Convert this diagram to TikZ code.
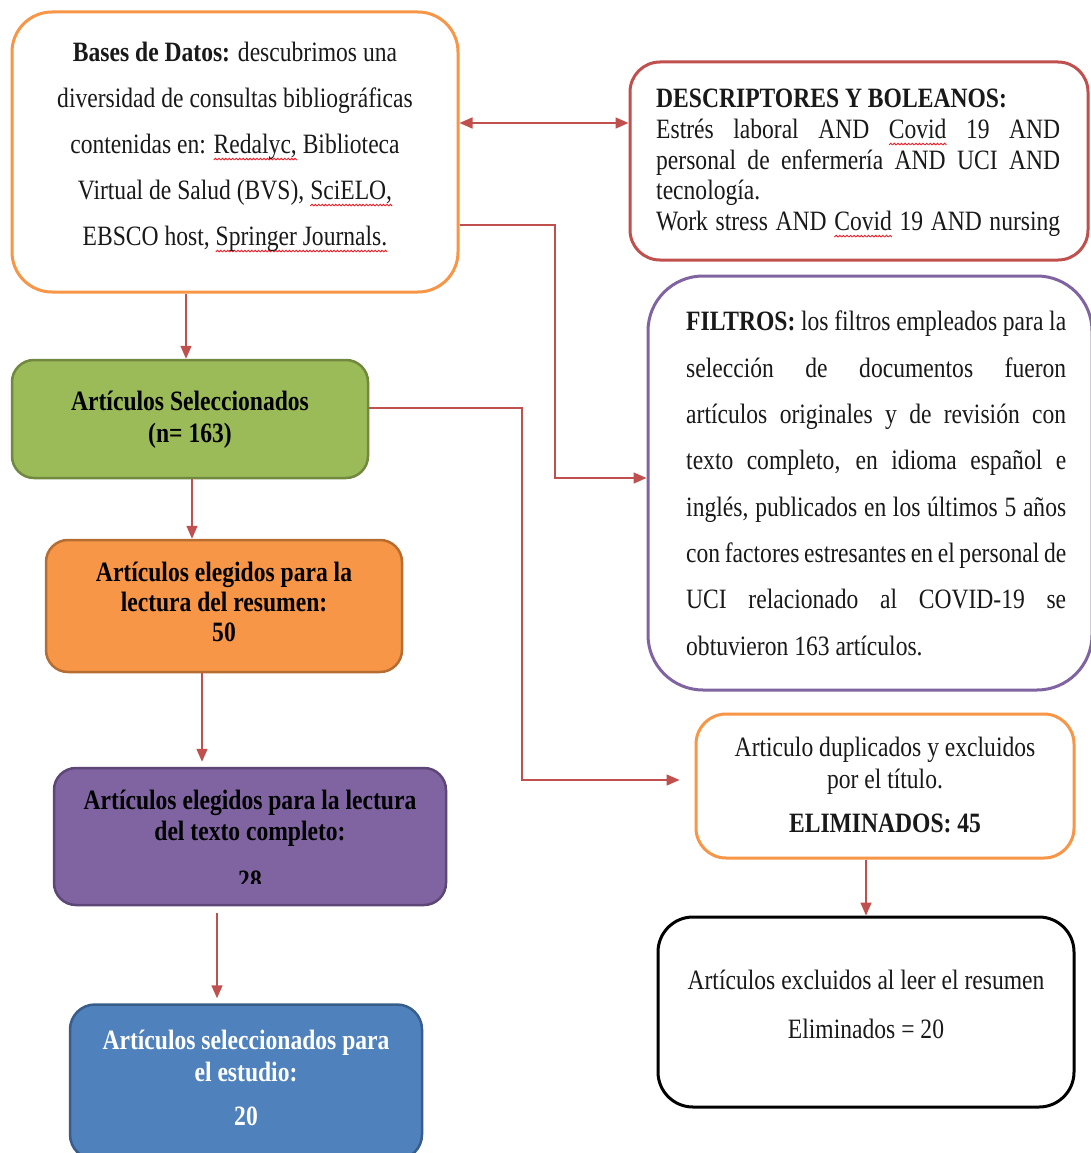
\documentclass[tikz,border=0pt]{standalone}
\usepackage{fontspec}
\setmainfont{Liberation Serif}[FakeStretch=0.842]
\usetikzlibrary{arrows.meta}
\definecolor{corange}{HTML}{F79646}
\definecolor{cred}{HTML}{C0504D}
\definecolor{cpurple}{HTML}{8064A2}
\definecolor{cgreen}{HTML}{9BBB59}
\definecolor{cgreenD}{HTML}{71893F}
\definecolor{corangeD}{HTML}{B66D31}
\definecolor{cpurpleD}{HTML}{5C4776}
\definecolor{cblue}{HTML}{4F81BD}
\definecolor{cblueD}{HTML}{385D8A}
\definecolor{sqred}{HTML}{E8202A}
\newcommand{\jl}[2]{\makebox[#1][s]{#2}}
\newcommand{\ns}{\spaceskip=0pt\xspaceskip=0pt\relax}
\newsavebox\wavebox
\newsavebox\sqtmp
\sbox\wavebox{\tikz[x=1pt,y=1pt]{\useasboundingbox (0,0) rectangle (3.4,1.7); \draw[sqred,line width=0.9pt] (0,0)--(1.7,1.7)--(3.4,0);}}
\newcommand{\sq}[1]{\leavevmode\sbox\sqtmp{#1}\rlap{\raisebox{-6.5pt}{\hbox to\wd\sqtmp{\xleaders\copy\wavebox\hfil}}}\usebox\sqtmp}
\begin{document}
\begin{tikzpicture}[x=1pt,y=-1pt,
  box/.style={draw, rectangle, line width=3pt, fill=white, inner sep=0pt},
  fbox/.style={draw, rectangle, line width=2.5pt, inner sep=0pt, rounded corners=22pt},
  conn/.style={draw=cred, line width=1.5pt, -{Triangle[length=13pt,width=11pt,fill=cred]}},
  dconn/.style={draw=cred, line width=1.5pt, {Triangle[length=13pt,width=11pt,fill=cred]}-{Triangle[length=13pt,width=11pt,fill=cred]}},
  txt/.style={inner sep=0pt, text=black!90},
  btxt/.style={inner sep=0pt, text=black, align=center, font=\bfseries\fontsize{28}{32}\selectfont},
]
\useasboundingbox[fill=white] (0,0) rectangle (1090,1153);

% boxes
\node[box, draw=corange, rounded corners=40pt, minimum width=446pt, minimum height=280pt] (bases) at (235,152) {};
\node[box, draw=cred, rounded corners=30pt, minimum width=458pt, minimum height=198pt] (desc) at (859,161) {};
\node[box, draw=cpurple, rounded corners=55pt, minimum width=444pt, minimum height=414pt] (filt) at (870,483) {};
\node[fbox, fill=cgreen, draw=cgreenD, minimum width=356pt, minimum height=118pt] (green) at (190,419) {};
\node[fbox, fill=corange, draw=corangeD, minimum width=356pt, minimum height=132pt] (orange) at (224,606) {};
\node[fbox, fill=cpurple, draw=cpurpleD, minimum width=392pt, minimum height=137pt] (purple) at (250,836.5) {};
\node[fbox, fill=cblue, draw=cblueD, rounded corners=25pt, minimum width=352pt, minimum height=155pt] (blue) at (246,1082) {};
\node[box, draw=corange, rounded corners=30pt, minimum width=378pt, minimum height=144pt] (elim) at (885,786) {};
\node[box, draw=black, rounded corners=35pt, minimum width=416pt, minimum height=190pt] (black) at (866,1012) {};

% texts
\node[txt, align=center, font=\fontsize{28}{46}\selectfont] (tbases) at (235,147)
  {\ns\textbf{Bases de Datos:} descubrimos una\\
   diversidad de consultas bibliográficas\\
   contenidas en: \sq{Redalyc,} Biblioteca\\
   Virtual de Salud (BVS), \sq{SciELO,}\\
   EBSCO host, \sq{Springer Journals.}};

\node[txt, anchor=north west, text width=404pt, align=left, font=\fontsize{28}{30.7}\selectfont] (tdesc) at (656,89)
  {\ns\textbf{DESCRIPTORES Y BOLEANOS:}\\
   \jl{404pt}{Estrés laboral AND \sq{Covid} 19 AND}\\
   \jl{404pt}{personal de enfermería AND UCI AND}\\
   tecnología.\\
   \jl{404pt}{Work stress AND \sq{Covid} 19 AND nursing}};

\node[txt, anchor=north west, text width=380pt, align=left, font=\fontsize{28}{46.3}\selectfont] (tfilt) at (686,311)
  {\ns\jl{380pt}{\textbf{FILTROS:} los filtros empleados para la}\\
   \jl{380pt}{selección de documentos fueron}\\
   \jl{380pt}{artículos originales y de revisión con}\\
   \jl{380pt}{texto completo, en idioma español e}\\
   \jl{380pt}{inglés, publicados en los últimos 5 años}\\
   \jl{380pt}{con factores estresantes en el personal de}\\
   \jl{380pt}{UCI relacionado al COVID-19 se}\\
   obtuvieron 163 artículos.};

\node[btxt] (tgreen) at (190,420) {\ns Artículos Seleccionados\\(n= 163)};
\node[btxt, font=\bfseries\fontsize{28}{30}\selectfont] (torange) at (224,602) {\ns Artículos elegidos para la\\lectura del resumen:\\50};
\node[btxt, font=\bfseries\fontsize{28}{31}\selectfont] (tpurple) at (250,818) {\ns Artículos elegidos para la lectura\\del texto completo:};
\begin{scope}
  \clip (100,850) rectangle (400,883);
  \node[btxt] (t28) at (250,880) {28};
\end{scope}
\node[btxt, text=white, font=\bfseries\fontsize{28}{32}\selectfont] (tblue) at (246,1078) {\ns Artículos seleccionados para\\el estudio:\\[12pt]20};
\node[txt, align=center, font=\fontsize{28}{32}\selectfont] (telim) at (885,785)
  {\ns Articulo duplicados y excluidos\\por el título.\\[12pt]\textbf{ELIMINADOS: 45}};
\node[txt, align=center, font=\fontsize{28}{49}\selectfont] (tblack) at (866,1004)
  {\ns Artículos excluidos al leer el resumen\\Eliminados = 20};

% connectors
\coordinate (r1) at (0,123);
\coordinate (r2) at (555,225);
\coordinate (r3) at (555,478);
\coordinate (g1) at (522,408);
\coordinate (g2) at (522,780);
\coordinate (c1) at (186,0);
\coordinate (c2) at (192,0);
\coordinate (c3) at (202,0);
\coordinate (c4) at (217,0);
\coordinate (c5) at (866,0);

\draw[dconn] (bases.east |- r1) -- (desc.west |- r1);
\draw[conn] (bases.east |- r2) -- (r2) -- (r3) -- (filt.west |- r3);
\draw[conn] (bases.south -| c1) -- (green.north -| c1);
\draw[conn] (green.south -| c2) -- (orange.north -| c2);
\draw[conn, shorten >=5pt] (orange.south -| c3) -- (purple.north -| c3);
\draw[conn, shorten <=7pt, shorten >=5pt] (purple.south -| c4) -- (blue.north -| c4);
\draw[conn, shorten >=15pt] (green.east |- g1) -- (g1) -- (g2) -- (elim.west |- g2);
\draw[conn] (elim.south -| c5) -- (black.north -| c5);
\end{tikzpicture}
\end{document}
